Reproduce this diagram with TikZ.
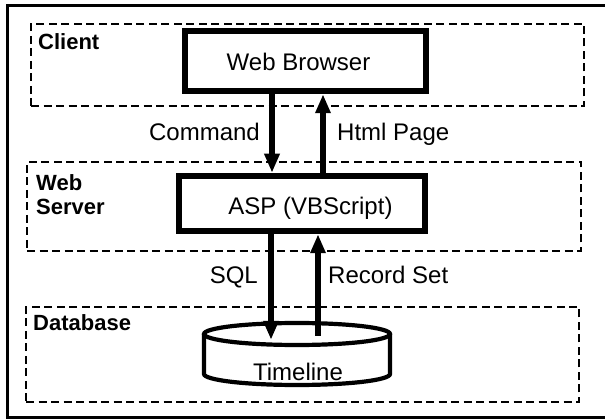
\documentclass[tikz,border=0pt]{standalone}
\usepackage{fontspec}
\setmainfont{Liberation Sans}
\usetikzlibrary{arrows.meta}
\begin{document}
\begin{tikzpicture}[x=1pt,y=-1pt,
  frame/.style={line width=3.8pt},
  zone/.style={draw, line width=2.7pt, dash pattern=on 8pt off 4.5pt, inner sep=0},
  box/.style={draw, line width=6.5pt, inner sep=0},
  cyl/.style={line width=4.2pt},
  lbl/.style={inner sep=0, font=\fontsize{24}{28}\selectfont},
  grp/.style={inner sep=0, font=\fontsize{22}{24}\selectfont\bfseries, align=left},
  arr/.style={line width=5.8pt, -{Triangle[length=19pt,width=14.5pt]}},
]
\useasboundingbox (0,0) rectangle (605,419);
% outer frame (right side lies outside the picture)
\draw[frame] (7.5,417.5) rectangle (615,5.5);
% groups
\node[zone, minimum width=553pt, minimum height=82pt] (client) at (307.5,65) {};
\node[zone, minimum width=554pt, minimum height=89pt] (server) at (304,206.5) {};
\node[zone, minimum width=553pt, minimum height=95pt] (dbzone) at (302.5,354.5) {};
\node[grp, anchor=base west] (clientlbl) at (38,50) {Client};
\node[grp, anchor=west] (serverlbl) at (36,195) {Web\\Server};
\node[grp, anchor=base west] (dblbl) at (33,331) {Database};
% boxes
\node[box, minimum width=241pt, minimum height=60pt] (wb) at (305.5,61) {};
\node[lbl, anchor=base] (wbtext) at (298.5,70.5) {Web Browser};
\node[box, minimum width=246pt, minimum height=55pt] (asp) at (302,203.5) {};
\node[lbl, anchor=base] (asptext) at (310.5,214.5) {ASP (VBScript)};
% cylinder
\node[minimum width=190pt, minimum height=66pt, inner sep=0] (db) at (297,354) {};
\draw[cyl] (204,334) -- (204,374) arc[start angle=180, end angle=360, x radius=93pt, y radius=11pt] -- (390,334);
\draw[cyl] (297,334) ellipse [x radius=93pt, y radius=11pt];
\node[lbl, anchor=base] (dbtext) at (298,380.5) {Timeline};
% connectors
\draw[arr] ([xshift=-33.5pt]wb.south) -- ([xshift=-30pt]asp.north);
\draw[arr] ([xshift=21pt]asp.north) -- ([xshift=17.5pt]wb.south);
\draw[arr] ([xshift=-31pt]asp.south) -- ([xshift=-26pt,yshift=-19pt]db.north);
\draw[arr] ([xshift=21pt,yshift=-15pt]db.north) -- ([xshift=16pt]asp.south);
% connector labels
\node[lbl, anchor=base east] (cmd) at (260,141) {Command};
\node[lbl, anchor=base west] (html) at (337,141) {Html Page};
\node[lbl, anchor=base east] (sql) at (258,283.5) {SQL};
\node[lbl, anchor=base west] (rs) at (328,283.5) {Record Set};
\end{tikzpicture}
\end{document}
